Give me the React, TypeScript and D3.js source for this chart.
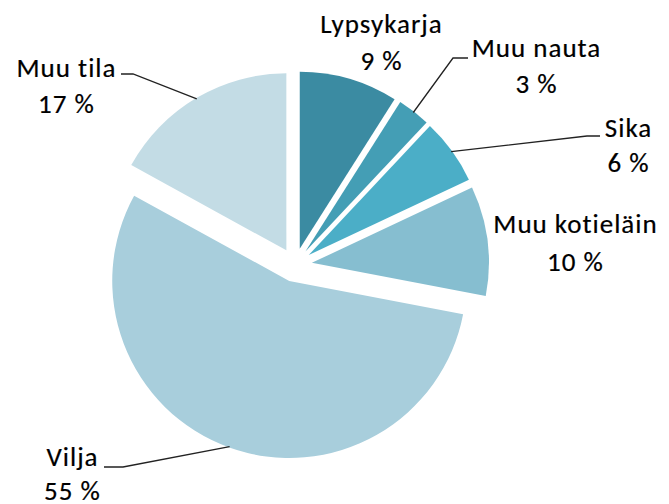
import React from "react";
import * as d3 from "d3";

const categories = ["Lypsykarja", "Muu nauta", "Sika", "Muu kotieläin", "Vilja", "Muu tila"];
const values = [9, 3, 6, 10, 55, 17];
const percentLabels = ["9 %", "3 %", "6 %", "10 %", "55 %", "17 %"];
const palette = ["#3b8ba2", "#449eb5", "#4baec7", "#86bed0", "#a8cedc", "#c3dce5"];

// layout (label placement, leader line elbows)
const labelLayout = [
  { x: 381, y1: 33, y2: 70, leader: null },
  { x: 536, y1: 57, y2: 93, leader: [[468, 58], [453, 58]] },
  { x: 628, y1: 137, y2: 172, leader: [[600, 136], [587, 136]] },
  { x: 575, y1: 233, y2: 271, leader: null },
  { x: 72, y1: 466, y2: 500, leader: [[104, 467], [123, 467]] },
  { x: 66, y1: 77, y2: 113, leader: [[121, 74], [133, 74]] },
];

const W = 669;
const H = 504;
const CX = 295;
const CY = 265;
const R = 177;
const EXPLODE = 17;
const LS = 1.0;

export default function App() {
  const pie = d3
    .pie<number>()
    .sort(null)
    .value((d) => d)
    .startAngle(0)
    .endAngle(2 * Math.PI);
  const arcs = pie(values);
  const arc = d3.arc<d3.PieArcDatum<number>>().innerRadius(0).outerRadius(R);

  return (
    <svg
      width={W}
      height={H}
      style={{ position: "absolute", left: 0, top: 0, background: "#fff" }}
      fontFamily="Carlito, Calibri, Lato, sans-serif"
    >
      {arcs.map((a, i) => {
        const mid = (a.startAngle + a.endAngle) / 2;
        const ox = CX + EXPLODE * Math.sin(mid);
        const oy = CY - EXPLODE * Math.cos(mid);
        return (
          <g key={categories[i]} transform={`translate(${ox},${oy})`}>
            <path d={arc(a) || ""} fill={palette[i]} />
          </g>
        );
      })}
      {arcs.map((a, i) => {
        const L = labelLayout[i];
        if (!L.leader) return null;
        const mid = (a.startAngle + a.endAngle) / 2;
        const ex = CX + (EXPLODE + R - 1) * Math.sin(mid);
        const ey = CY - (EXPLODE + R - 1) * Math.cos(mid);
        const pts = [...L.leader, [ex, ey]] as [number, number][];
        const line = d3.line()(pts) || "";
        return <path key={"l" + i} d={line} fill="none" stroke="#222" strokeWidth={1.3} />;
      })}
      {categories.map((c, i) => {
        const L = labelLayout[i];
        return (
          <g
            key={"t" + i}
            fill="#000"
            stroke="#000"
            strokeWidth={0.2}
            fontSize={27}
            letterSpacing={LS}
            textAnchor="middle"
          >
            <text x={L.x + LS / 2} y={L.y1}>{c}</text>
            <text x={L.x + LS / 2} y={L.y2}>{percentLabels[i]}</text>
          </g>
        );
      })}
    </svg>
  );
}
